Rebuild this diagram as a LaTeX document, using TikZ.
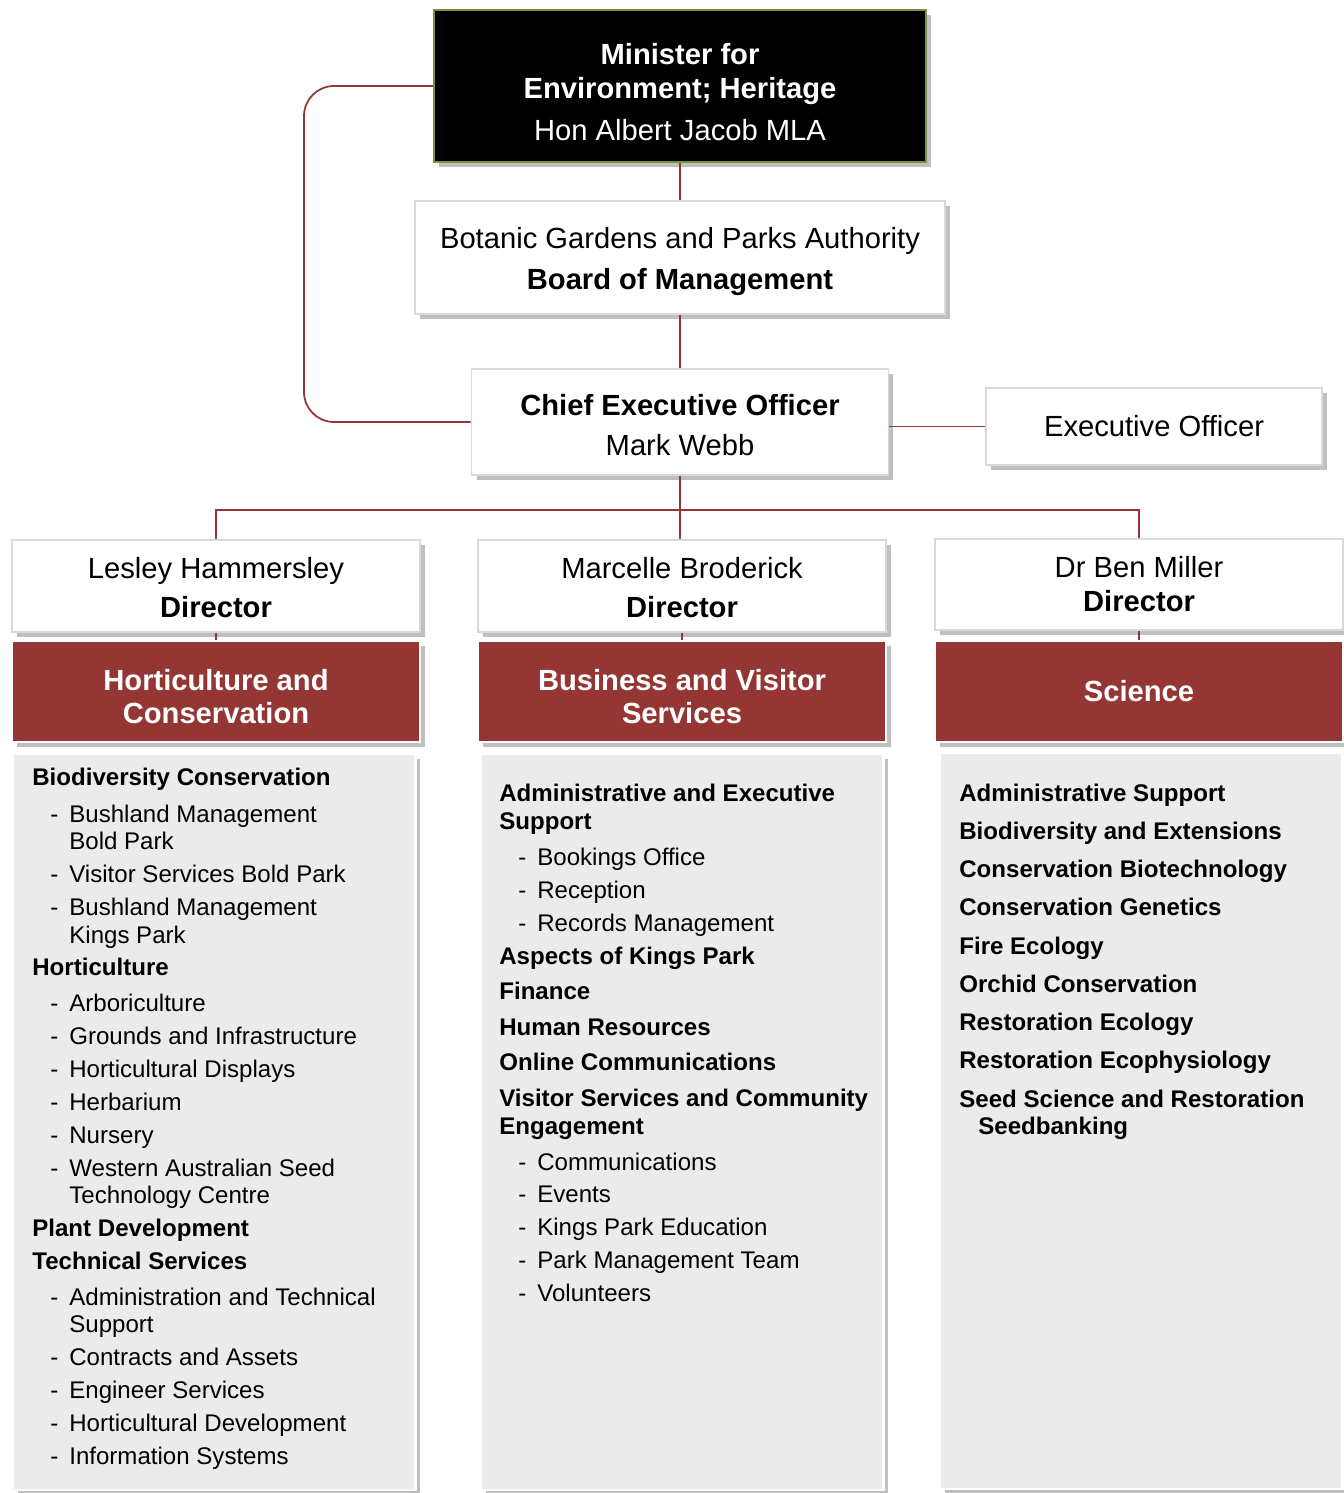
\documentclass[tikz,border=0pt]{standalone}
\usepackage{fontspec}
\setmainfont{Liberation Sans}
\usetikzlibrary{shadows}

\definecolor{linkred}{RGB}{148,54,52}
\definecolor{ministergreen}{RGB}{119,147,60}
\newcommand{\boxfont}{\fontsize{16.6}{19.3}\selectfont}
\newcommand{\listfont}{\fontsize{13.7}{16}\selectfont}
\newcommand{\dashitem}{\llap{-\hspace{0.22cm}}}
\newcommand{\lowered}[1]{\rule{0pt}{#1}}

\begin{document}
\begin{tikzpicture}
      [x=0.02cm, y=-0.02cm,
       shadowed/.style={drop shadow={shadow xshift=0.1cm, shadow yshift=-0.1cm,
                        fill=black!25, opacity=1}},
       whitebox/.style={shadowed, draw=black!15, line width=1pt, fill=white,
                        align=center, font=\boxfont},
       redbox/.style={shadowed, draw=white, line width=1pt, fill=linkred,
                      text=white, align=center, font=\boxfont\bfseries,
                      minimum width=8.16cm, minimum height=2.02cm},
       listbox/.style={shadowed, draw=white, line width=1.5pt, fill=black!8,
                       minimum width=8.06cm, minimum height=14.72cm},
       entry/.style={anchor=base west, inner sep=0pt, font=\listfont},
       link/.style={linkred, line width=1pt}]
      \useasboundingbox (0,0) rectangle (1343,1493);

      % top of the chart
      \node [shadowed, fill=black, draw=ministergreen, line width=1.2pt, text=white,
             align=center, font=\boxfont, minimum width=9.84cm, minimum height=3.04cm]
            (minister) at (680,86)
            {\lowered{18.9pt}\textbf{Minister for}\\ \textbf{Environment; Heritage}\\[4.5pt] Hon Albert Jacob MLA};
      \node [whitebox, minimum width=10.6cm, minimum height=2.26cm] (board) at (680,257.5)
            {\lowered{16.1pt}Botanic Gardens and Parks Authority\\[4pt] \textbf{Board of Management}};
      \node [whitebox, minimum width=8.34cm, minimum height=2.12cm] (ceo) at (680,422)
            {\lowered{15.5pt}\textbf{Chief Executive Officer}\\[3pt] Mark Webb};
      \node [whitebox, minimum width=6.72cm, minimum height=1.54cm] (exec) at (1154,426.5)
            {Executive Officer};

      % directors
      \node [whitebox, minimum width=8.16cm, minimum height=1.84cm] (dirhc) at (216,586)
            {\lowered{13.8pt}Lesley Hammersley\\[3pt] \textbf{Director}};
      \node [whitebox, minimum width=8.16cm, minimum height=1.84cm] (dirbv) at (682,586)
            {\lowered{13.8pt}Marcelle Broderick\\[3pt] \textbf{Director}};
      \node [whitebox, minimum width=8.16cm, minimum height=1.82cm] (dirsc) at (1139,584.5)
            {Dr Ben Miller\\ \textbf{Director}};

      % divisions
      \node [redbox] (hc) at (216,691.5) {\lowered{17.8pt}Horticulture and\\ Conservation};
      \node [redbox] (bv) at (682,691.5) {\lowered{17.8pt}Business and Visitor\\ Services};
      \node [redbox] (sc) at (1139,691.5) {Science};

      \node [listbox] (hclist) at (214,1122) {};
      \node [listbox] (bvlist) at (682,1122) {};
      \node [listbox] (sclist) at (1141,1121) {};

      % connectors
      \draw [link] (minister.south) -- (board.north);
      \draw [link] (board.south) -- (ceo.north);
      \draw [link, rounded corners=0.6cm] (minister.west) -- ++(-129,0) |- (ceo.west);
      \draw [link] (exec.west) -- (exec.west -| ceo.east);
      \coordinate (bus) at (680,510);
      \draw [link] (ceo.south) -- (bus);
      \draw [link] (dirhc.north) |- (bus) -| (dirsc.north);
      \draw [link] (bus) -- (bus |- dirbv.north);
      \foreach \from/\to in {dirhc/hc, dirbv/bv, dirsc/sc}
      \draw [link] (\from.south) -- (\to.north);

      % horticulture and conservation
      \foreach \x/\y/\t [count=\i] in {
          32/777/\textbf{Biodiversity Conservation},
          69/814/\dashitem Bushland Management, 69/841/Bold Park,
          69/874/\dashitem Visitor Services Bold Park,
          69/907/\dashitem Bushland Management, 69/935/Kings Park,
          32/967/\textbf{Horticulture},
          69/1003/\dashitem Arboriculture,
          69/1036/\dashitem Grounds and Infrastructure,
          69/1069/\dashitem Horticultural Displays,
          69/1102/\dashitem Herbarium,
          69/1135/\dashitem Nursery,
          69/1168/\dashitem Western Australian Seed, 69/1195/Technology Centre,
          32/1228/\textbf{Plant Development},
          32/1261/\textbf{Technical Services},
          69/1297/\dashitem Administration and Technical, 69/1324/Support,
          69/1357/\dashitem Contracts and Assets,
          69/1390/\dashitem Engineer Services,
          69/1423/\dashitem Horticultural Development,
          69/1456/\dashitem Information Systems}
      \node [entry] (hc\i) at (\x,\y+8.5) {\t};

      % business and visitor services
      \foreach \x/\y/\t [count=\i] in {
          499/793/\textbf{Administrative and Executive}, 499/821/\textbf{Support},
          537/857/\dashitem Bookings Office,
          537/890/\dashitem Reception,
          537/923/\dashitem Records Management,
          499/956/\textbf{Aspects of Kings Park},
          499/991/\textbf{Finance},
          499/1027/\textbf{Human Resources},
          499/1062/\textbf{Online Communications},
          499/1098/\textbf{Visitor Services and Community}, 499/1126/\textbf{Engagement},
          537/1162/\dashitem Communications,
          537/1194/\dashitem Events,
          537/1227/\dashitem Kings Park Education,
          537/1260/\dashitem Park Management Team,
          537/1293/\dashitem Volunteers}
      \node [entry] (bv\i) at (\x,\y+8.5) {\t};

      % science
      \foreach \x/\y/\t [count=\i] in {
          959/793/Administrative Support,
          959/831/Biodiversity and Extensions,
          959/869/Conservation Biotechnology,
          959/907/Conservation Genetics,
          959/946/Fire Ecology,
          959/984/Orchid Conservation,
          959/1022/Restoration Ecology,
          959/1060/Restoration Ecophysiology,
          959/1099/Seed Science and Restoration,
          978/1126/Seedbanking}
      \node [entry, font=\listfont\bfseries] (sc\i) at (\x,\y+8.5) {\t};
    \end{tikzpicture}
\end{document}
